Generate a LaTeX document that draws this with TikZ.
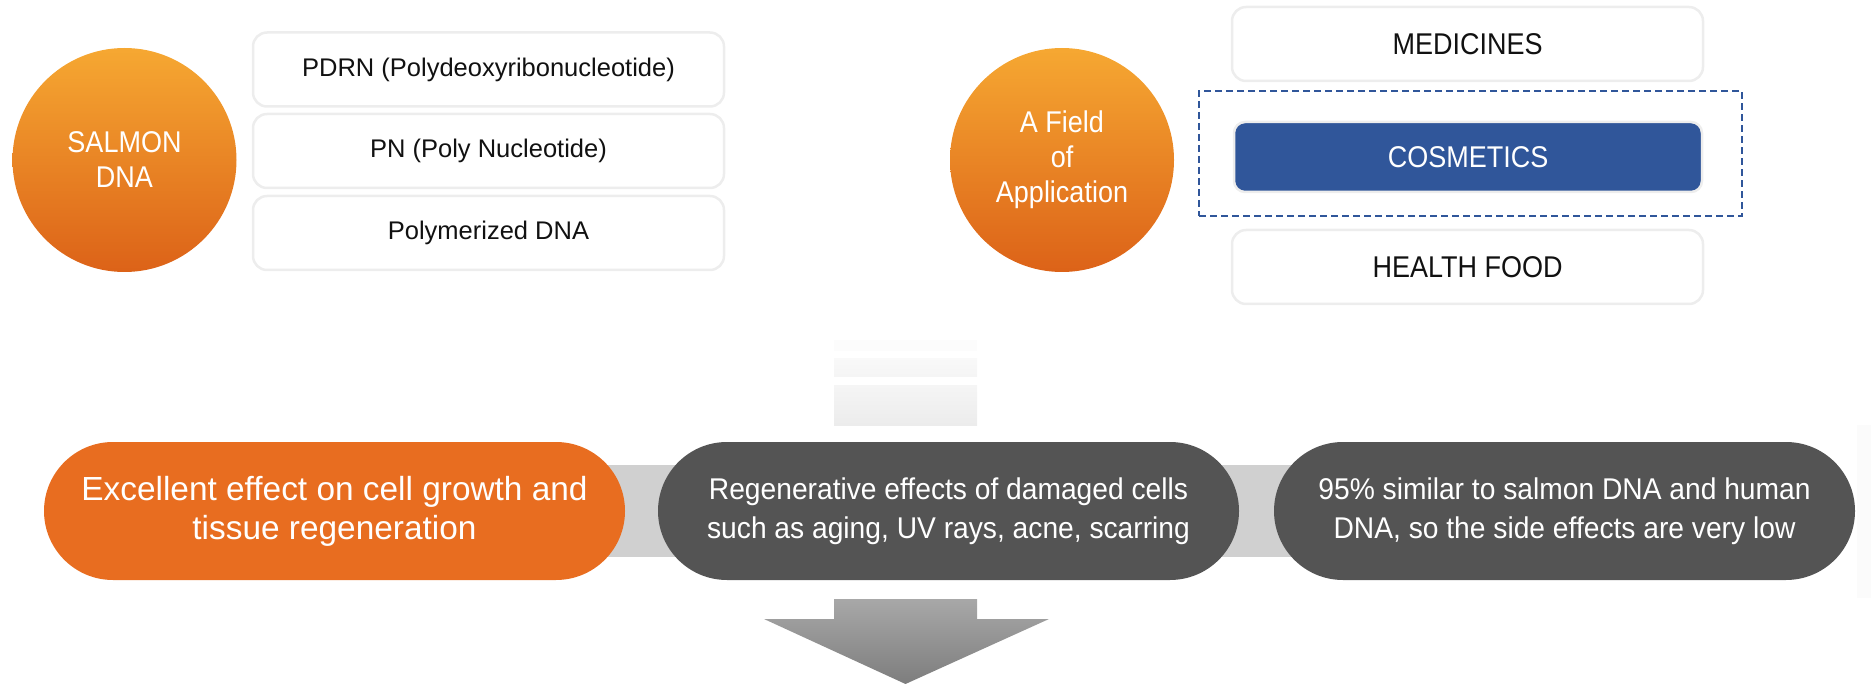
\documentclass[tikz,border=0pt]{standalone}
\usepackage{fontspec}
\setmainfont{Liberation Sans}
\newfontfamily\condfont{Liberation Sans}[FakeStretch=0.9]
\newfontfamily\pillfont{Liberation Sans}[FakeStretch=0.94]
\usetikzlibrary{backgrounds}
\definecolor{orA}{HTML}{F6A832}
\definecolor{orB}{HTML}{DC6218}
\definecolor{pillor}{HTML}{E86D20}
\definecolor{pilldk}{HTML}{545454}
\definecolor{cosblue}{HTML}{30569A}
\definecolor{boxline}{HTML}{EDEDED}
\definecolor{bandgray}{HTML}{D0D0D0}
\definecolor{txt}{HTML}{111111}
\definecolor{arrtop}{HTML}{A8A8A8}
\definecolor{arrbot}{HTML}{7D7D7D}
\begin{document}
\begin{tikzpicture}[x=1pt,y=-1pt,
  ball/.style={circle, minimum size=224pt, inner sep=0pt, top color=orA, bottom color=orB,
    text=white, align=center, font=\condfont\fontsize{30}{35}\selectfont},
  listbox/.style={rectangle, rounded corners=14pt, draw=boxline, line width=2.5pt, fill=white,
    minimum width=471pt, minimum height=74pt, text=txt, font=\fontsize{25.5}{30}\selectfont},
  capbox/.style={listbox, font=\condfont\fontsize{30}{35}\selectfont},
  pill/.style={rectangle, rounded corners=69pt, minimum width=581pt, minimum height=138pt,
    text=white, align=center},
  pilltxt/.style={font=\pillfont\fontsize{30}{39}\selectfont},
]
\useasboundingbox (0,0) rectangle (1871,684);

% left cluster
\node[ball] (salmon) at (124.5,160) {SALMON\\DNA};
\node[listbox] (pdrn) at (488.5,69.5) {PDRN (Polydeoxyribonucleotide)};
\node[listbox] (pn) at (488.5,151) {PN (Poly Nucleotide)};
\node[listbox] (pdna) at (488.5,233) {Polymerized DNA};

% right cluster
\node[ball] (field) at (1062,160) {A Field\\of\\Application};
\node[capbox] (med) at (1467.5,44) {MEDICINES};
\node[draw=cosblue, dashed, dash pattern=on 7pt off 4pt, line width=2.3pt,
  minimum width=543pt, minimum height=125pt] (hl) at (1470.5,153.5) {};
\node[capbox, fill=cosblue, draw=boxline, rounded corners=11pt, minimum width=468pt,
  minimum height=70pt, text=white] (cos) at (1468,157) {COSMETICS};
\node[capbox] (food) at (1467.5,267) {HEALTH FOOD};

% fading tail above the pills
\fill[gray!2] (834,340) rectangle (977,351);
\shade[top color=gray!5, bottom color=gray!8] (834,359) rectangle (977,377);
\shade[top color=gray!8, bottom color=gray!15] (834,386) rectangle (977,425);

% right faint strip
\fill[gray!3] (1857,425) rectangle (1871,598);

% pills
\node[pill, fill=pillor, font=\fontsize{33.4}{39}\selectfont] (p1) at (334.5,511)
  {Excellent effect on cell growth and\\tissue regeneration};
\node[pill, fill=pilldk, pilltxt] (p2) at (948.5,511)
  {Regenerative effects of damaged cells\\such as aging, UV rays, acne, scarring};
\node[pill, fill=pilldk, pilltxt] (p3) at (1564.5,511)
  {95\% similar to salmon DNA and human\\DNA, so the side effects are very low};

\begin{scope}[on background layer]
  \draw[bandgray, line width=92pt] (p1.center) -- (p3.center);
\end{scope}

% down arrow
\shade[top color=arrtop, bottom color=arrbot]
  (834,599) -- (977,599) -- (977,619) -- (1049,619) -- (905.5,684) -- (764,619) -- (834,619) -- cycle;
\end{tikzpicture}
\end{document}
